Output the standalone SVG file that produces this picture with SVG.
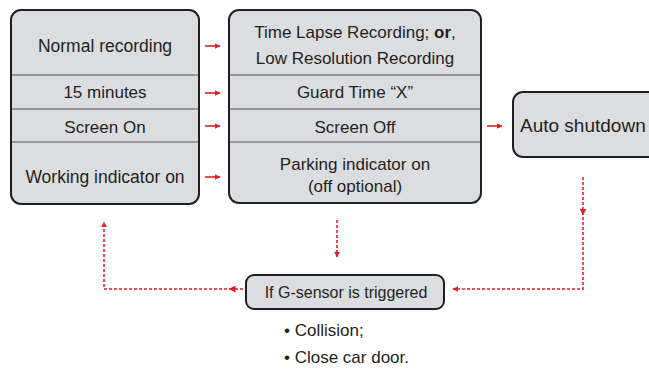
<svg xmlns="http://www.w3.org/2000/svg" width="649" height="369" viewBox="0 0 649 369">
<defs>
<style>
.box{fill:#dcdde0;stroke:#231f20;stroke-width:2}
.div{stroke:#555;stroke-width:1.2}
.t{font-family:"Liberation Sans",Arial,sans-serif;font-size:17px;fill:#231f20;text-anchor:middle}
.tl{font-family:"Liberation Sans",Arial,sans-serif;font-size:17px;fill:#231f20}
.sol{stroke:#e31e25;stroke-width:1.6;fill:none}
.dash{stroke:#e31e25;stroke-width:1.6;fill:none;stroke-dasharray:3 2}
</style>
<marker id="ah" viewBox="0 0 10 10" refX="9" refY="5" markerWidth="6" markerHeight="6" orient="auto" markerUnits="userSpaceOnUse">
<path d="M0,0 L10,5 L0,10 z" fill="#e31e25"/>
</marker>
<marker id="ahm" viewBox="0 0 10 10" refX="5" refY="5" markerWidth="7" markerHeight="7" orient="auto" markerUnits="userSpaceOnUse">
<path d="M0,0 L10,5 L0,10 z" fill="#e31e25"/>
</marker>
</defs>

<g id="left-box">
<rect class="box" x="11" y="10" width="188" height="194" rx="10"/>
<line class="div" x1="12" y1="75" x2="198" y2="75"/>
<line class="div" x1="12" y1="109" x2="198" y2="109"/>
<line class="div" x1="12" y1="142" x2="198" y2="142"/>
<text class="t" x="105" y="52" style="font-size:17.5px">Normal recording</text>
<text class="t" x="105" y="98">15 minutes</text>
<text class="t" x="105" y="133">Screen On</text>
<text class="t" x="105" y="183" style="font-size:17.5px">Working indicator on</text>
</g>

<g id="middle-box">
<rect class="box" x="229" y="10" width="252" height="193" rx="10"/>
<line class="div" x1="230" y1="75" x2="480" y2="75"/>
<line class="div" x1="230" y1="109" x2="480" y2="109"/>
<line class="div" x1="230" y1="142" x2="480" y2="142"/>
<text class="t" x="355" y="38">Time Lapse Recording; <tspan font-weight="bold">or</tspan>,</text>
<text class="t" x="355" y="64">Low Resolution Recording</text>
<text class="t" x="355" y="98">Guard Time “X”</text>
<text class="t" x="355" y="133">Screen Off</text>
<text class="t" x="355" y="170">Parking indicator on</text>
<text class="t" x="355" y="192">(off optional)</text>
</g>

<g id="auto-shutdown">
<rect class="box" x="513" y="92" width="150" height="65" rx="10"/>
<text class="tl" x="520" y="132" style="font-size:19px">Auto shutdown</text>
</g>

<g id="g-sensor">
<rect class="box" x="246" y="275" width="198" height="34" rx="8"/>
<text class="t" x="346" y="298" style="font-size:16px">If G-sensor is triggered</text>
</g>

<g id="bullets">
<text class="tl" x="284" y="336">• Collision;</text>
<text class="tl" x="284" y="363">• Close car door.</text>
</g>

<g id="connectors">
<line class="sol" x1="205" y1="46" x2="220" y2="46" marker-end="url(#ah)"/>
<line class="sol" x1="205" y1="93" x2="220" y2="93" marker-end="url(#ah)"/>
<line class="sol" x1="205" y1="126" x2="220" y2="126" marker-end="url(#ah)"/>
<line class="sol" x1="205" y1="177" x2="220" y2="177" marker-end="url(#ah)"/>
<line class="sol" x1="487" y1="126" x2="502" y2="126" marker-end="url(#ah)"/>
<line class="dash" x1="337" y1="220" x2="337" y2="257" marker-end="url(#ah)"/>
<path class="dash" d="M583,177 L583,212" marker-end="url(#ahm)"/>
<path class="dash" d="M583,212 L583,289 L453,289" marker-end="url(#ah)"/>
<path class="dash" d="M243,289 L232,289" marker-end="url(#ahm)"/>
<path class="dash" d="M232,289 L104,289 L104,222" marker-end="url(#ah)"/>
</g>
</svg>
